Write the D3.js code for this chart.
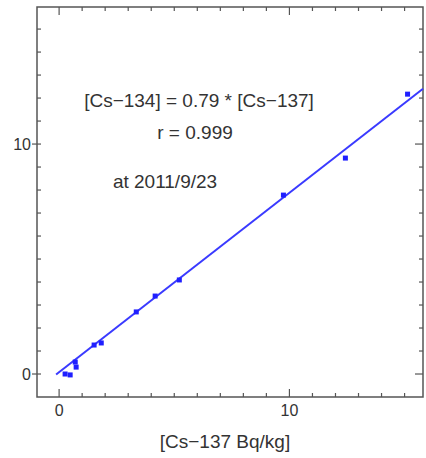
<!DOCTYPE html>
<html>
<head>
<meta charset="utf-8">
<script src="https://cdn.jsdelivr.net/npm/d3@7"></script>
<style>
  body { margin: 0; background: #fff; }
  text { font-family: "Liberation Sans", Arial, sans-serif; fill: #333; }
</style>
</head>
<body>
<svg width="426" height="458"></svg>
<script>
var cs137 = [15.13, 12.43, 9.74, 5.22, 4.17, 3.35, 1.83, 1.52, 0.70, 0.74, 0.26, 0.48];
var cs134 = [12.17, 9.39, 7.78, 4.09, 3.39, 2.70, 1.35, 1.26, 0.52, 0.30, 0.00, -0.04];
var fitSlope = 0.78, fitIntercept = 0.08;
var fitRange = [-0.13, 15.8];
var majorTicks = [0, 10];
var notes = ["[Cs\u2212134] = 0.79 * [Cs\u2212137]", "r = 0.999", "at 2011/9/23"];
var xTitle = "[Cs\u2212137 Bq/kg]";

var svg = d3.select("svg");
var pLeft = 37, pRight = 423, pTop = 7, pBottom = 397;

var x = d3.scaleLinear().domain([-0.96, 15.8]).range([pLeft, pRight]);
var y = d3.scaleLinear().domain([-1, 15.96]).range([pBottom, pTop]);

var minor = d3.range(0, 16, 1);
var axisColor = "#555";

// frame
svg.append("rect")
  .attr("x", pLeft).attr("y", pTop)
  .attr("width", pRight - pLeft).attr("height", pBottom - pTop)
  .attr("fill", "none").attr("stroke", axisColor).attr("stroke-width", 1.5);

var g = svg.append("g").attr("stroke", axisColor).attr("stroke-width", 1.2);

// x ticks, bottom and top, pointing inward
minor.forEach(function(v) {
  if (x(v) <= pLeft || x(v) >= pRight) return;
  var len = majorTicks.indexOf(v) >= 0 ? 8 : 4;
  g.append("line").attr("x1", x(v)).attr("x2", x(v)).attr("y1", pBottom).attr("y2", pBottom - len);
  g.append("line").attr("x1", x(v)).attr("x2", x(v)).attr("y1", pTop).attr("y2", pTop + len);
});
// y ticks, left and right
minor.forEach(function(v) {
  if (y(v) >= pBottom || y(v) <= pTop) return;
  var major = majorTicks.indexOf(v) >= 0;
  var len = 4;
  g.append("line").attr("y1", y(v)).attr("y2", y(v)).attr("x1", major ? pLeft - 5 : pLeft).attr("x2", pLeft + len);
  g.append("line").attr("y1", y(v)).attr("y2", y(v)).attr("x1", pRight).attr("x2", pRight - (major ? 8 : len));
});

// tick labels
svg.selectAll(".xl").data(majorTicks).enter().append("text")
  .attr("x", function(d) { return x(d); })
  .attr("y", 416)
  .attr("text-anchor", "middle")
  .attr("font-size", 16)
  .text(function(d) { return d; });

svg.selectAll(".yl").data(majorTicks).enter().append("text")
  .attr("x", 31)
  .attr("y", function(d) { return y(d) + 6; })
  .attr("text-anchor", "end")
  .attr("font-size", 16)
  .text(function(d) { return d; });

// fit line
svg.append("line")
  .attr("x1", x(fitRange[0])).attr("y1", y(fitSlope * fitRange[0] + fitIntercept))
  .attr("x2", x(fitRange[1])).attr("y2", y(fitSlope * fitRange[1] + fitIntercept))
  .attr("stroke", "#3a3aff").attr("stroke-width", 2);

// points
svg.selectAll(".pt").data(cs137).enter().append("rect")
  .attr("x", function(d) { return x(d) - 2.5; })
  .attr("y", function(d, i) { return y(cs134[i]) - 2.5; })
  .attr("width", 5).attr("height", 5)
  .attr("fill", "#1f1fff");

// annotations
svg.append("text").attr("x", 199).attr("y", 107).attr("text-anchor", "middle")
  .attr("font-size", 19).text(notes[0]);
svg.append("text").attr("x", 195).attr("y", 139).attr("text-anchor", "middle")
  .attr("font-size", 19).text(notes[1]);
svg.append("text").attr("x", 165).attr("y", 188).attr("text-anchor", "middle")
  .attr("font-size", 19).text(notes[2]);

svg.append("text").attr("x", 225).attr("y", 448).attr("text-anchor", "middle")
  .attr("font-size", 19).text(xTitle);
</script>
</body>
</html>
